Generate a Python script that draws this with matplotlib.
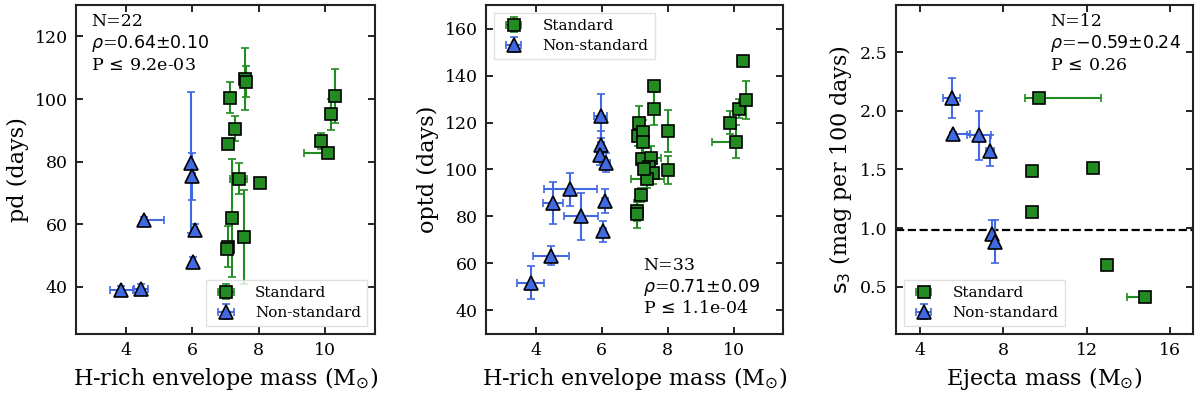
import numpy as np
import matplotlib
matplotlib.use('Agg')
import matplotlib.pyplot as plt

plt.rcParams['font.family'] = 'DejaVu Serif'
plt.rcParams['mathtext.fontset'] = 'dejavusans'

# colours
c_std = '#228B22'
c_ns = '#4169E1'

# ---- panel 1: pd vs H-rich envelope mass ----
x1_std = [7.15, 7.58, 7.62, 7.28, 7.09, 7.40, 8.03, 9.88, 10.08, 10.18, 10.30, 7.20, 7.08, 7.06, 7.55]
y1_std = [100.4, 106.4, 105.5, 90.5, 85.7, 74.6, 73.1, 86.5, 82.6, 95.1, 101.0, 62.0, 52.8, 52.1, 56.0]
y1_std_err = [5, 10, 5, 4, 1.5, 5, 0, 2.5, 0, 5, 8.7, 19, 6.5, 1, 15]
x1_std_lo = [0.1, 0.05, 0.05, 0.05, 0.1, 0.26, 0, 0.05, 0.7, 0.05, 0.05, 0.05, 0.05, 0.05, 0.05]
x1_std_hi = [0.1, 0.05, 0.05, 0.05, 0.1, 0.26, 0, 0.05, 0.05, 0.05, 0.05, 0.05, 0.05, 0.05, 0.05]

x1_ns = [3.87, 4.46, 4.54, 5.98, 6.00, 6.10, 6.03]
y1_ns = [38.9, 39.3, 61.2, 79.6, 75.3, 58.2, 48.0]
y1_ns_err = [1.5, 1.5, 1, 22.5, 7.5, 2, 1.5]
x1_ns_lo = [0.35, 0.2, 0.05, 0.05, 0.05, 0.05, 0.05]
x1_ns_hi = [0.35, 0.2, 0.6, 0.05, 0.1, 0.05, 0.05]

# ---- panel 2: optd vs H-rich envelope mass ----
x2_std = [7.58, 7.60, 7.15, 7.10, 7.25, 7.27, 8.01, 7.23, 7.50, 7.45, 7.55,
          8.03, 7.38, 7.20, 7.07, 7.08, 9.88, 10.07, 10.17, 10.38, 10.28, 7.30]
y2_std = [135.5, 125.9, 119.9, 114.2, 116.1, 111.8, 116.3, 104.3, 105.0, 101.0, 98.6,
          99.6, 96.0, 89.0, 82.2, 80.9, 119.9, 111.8, 125.9, 129.6, 146.3, 100.0]
y2_std_err = [0, 7, 7, 4, 5, 5, 9, 6, 5, 5, 5, 6, 4, 3, 4, 6, 5, 7, 4, 8, 0, 4]
x2_std_lo = [0.05, 0.05, 0.1, 0.1, 0.1, 0.1, 0.05, 0.1, 0.3, 0.1, 0.1,
             0.15, 0.5, 0.1, 0.1, 0.1, 0.1, 0.72, 0.1, 0.05, 0, 0.1]
x2_std_hi = [0.05, 0.05, 0.1, 0.1, 0.1, 0.1, 0.05, 0.1, 0.3, 0.1, 0.1,
             0.15, 0.5, 0.1, 0.1, 0.1, 0.1, 0.05, 0.1, 0.05, 0, 0.1]

x2_ns = [5.98, 5.98, 5.95, 6.15, 5.05, 4.53, 5.38, 6.10, 6.05, 4.46, 3.85]
y2_ns = [122.7, 110.4, 106.1, 102.9, 91.5, 85.8, 80.1, 86.5, 73.7, 63.3, 51.7]
y2_ns_err = [9.5, 6, 4, 4, 7, 9, 10, 5, 4.5, 4, 7]
x2_ns_err = [0.2, 0.1, 0.1, 0.1, 0.8, 0.3, 0.52, 0.1, 0.1, 0.55, 0.4]

# ---- panel 3: s3 vs ejecta mass ----
x3_std = [9.71, 9.39, 12.29, 9.39, 12.96, 14.80]
y3_std = [2.11, 1.486, 1.514, 1.136, 0.69, 0.417]
x3_std_lo = [0.67, 0, 0, 0, 0, 0.88]
x3_std_hi = [2.98, 0, 0, 0, 0, 0.05]

x3_ns = [5.52, 5.60, 6.83, 7.36, 7.47, 7.60]
y3_ns = [2.11, 1.80, 1.79, 1.66, 0.95, 0.886]
y3_ns_err = [0.17, 0.02, 0.21, 0.13, 0.12, 0.18]
x3_ns_lo = [0.4, 0.05, 0.58, 0.2, 0.05, 0.05]
x3_ns_hi = [0.4, 0.8, 0.58, 0.2, 0.05, 0.05]
s3_limit = 0.985

stats1 = ['N=22', r'$\rho$=$0.64{\pm}0.10$', r'P$\,\leq\,$9.2e-03']
stats2 = ['N=33', r'$\rho$=$0.71{\pm}0.09$', r'P$\,\leq\,$1.1e-04']
stats3 = ['N=12', r'$\rho$=${-}0.59{\pm}0.24$', r'P$\,\leq\,$0.26']

fig = plt.figure(figsize=(12, 3.95), dpi=100)
ax1 = fig.add_axes([0.0633, 0.155, 0.249, 0.832])
ax2 = fig.add_axes([0.405, 0.155, 0.2475, 0.832])
ax3 = fig.add_axes([0.7467, 0.155, 0.2475, 0.832])


def draw_std(ax, x, y, xerr, yerr):
    return ax.errorbar(x, y, xerr=xerr, yerr=yerr, fmt='s', color=c_std, ecolor=c_std,
                       mfc=c_std, mec='black', mew=1.2, ms=8, elinewidth=1.5,
                       capsize=3, capthick=1.2, label='Standard', zorder=3)


def draw_ns(ax, x, y, xerr, yerr):
    return ax.errorbar(x, y, xerr=xerr, yerr=yerr, fmt='^', color=c_ns, ecolor=c_ns,
                       mfc=c_ns, mec='black', mew=1.2, ms=10, elinewidth=1.5,
                       capsize=3, capthick=1.2, label='Non-standard', zorder=3)


leg_kw = dict(fontsize=11, fancybox=False, edgecolor='0.85', handletextpad=1.0,
              handlelength=1.8, labelspacing=0.4)

draw_std(ax1, x1_std, y1_std, [x1_std_lo, x1_std_hi], y1_std_err)
draw_ns(ax1, x1_ns, y1_ns, [x1_ns_lo, x1_ns_hi], y1_ns_err)
ax1.set_xlim(2.5, 11.5)
ax1.set_ylim(25, 130)
ax1.set_yticks([40, 60, 80, 100, 120])
ax1.set_xticks([4, 6, 8, 10])
ax1.set_ylabel('pd (days)', fontsize=16)
ax1.set_xlabel(r'H-rich envelope mass (M$_{\odot}$)', fontsize=16)
ax1.text(0.05, 0.975, '\n'.join(stats1), transform=ax1.transAxes, fontsize=12.5,
         va='top', ha='left', linespacing=1.2)
ax1.legend(loc='lower right', **leg_kw)

draw_std(ax2, x2_std, y2_std, [x2_std_lo, x2_std_hi], y2_std_err)
draw_ns(ax2, x2_ns, y2_ns, x2_ns_err, y2_ns_err)
ax2.set_xlim(2.5, 11.5)
ax2.set_ylim(30, 170)
ax2.set_yticks([40, 60, 80, 100, 120, 140, 160])
ax2.set_xticks([4, 6, 8, 10])
ax2.set_ylabel('optd (days)', fontsize=16)
ax2.set_xlabel(r'H-rich envelope mass (M$_{\odot}$)', fontsize=16)
ax2.text(0.53, 0.235, '\n'.join(stats2), transform=ax2.transAxes, fontsize=12.5,
         va='top', ha='left', linespacing=1.2)
ax2.legend(loc='upper left', **leg_kw)

ax3.axhline(s3_limit, color='black', ls='--', lw=1.6, zorder=1)
draw_std(ax3, x3_std, y3_std, [x3_std_lo, x3_std_hi], None)
draw_ns(ax3, x3_ns, y3_ns, [x3_ns_lo, x3_ns_hi], y3_ns_err)
ax3.set_xlim(2.85, 17.1)
ax3.set_ylim(0.1, 2.9)
ax3.set_xticks([4, 8, 12, 16])
ax3.set_yticks([0.5, 1.0, 1.5, 2.0, 2.5])
ax3.set_ylabel(r'$\mathrm{s_3}$ (mag per 100 days)', fontsize=16)
ax3.set_xlabel(r'Ejecta mass (M$_{\odot}$)', fontsize=16)
ax3.text(0.52, 0.975, '\n'.join(stats3), transform=ax3.transAxes, fontsize=12.5,
         va='top', ha='left', linespacing=1.2)
ax3.legend(loc='lower left', **leg_kw)

for ax in (ax1, ax2, ax3):
    ax.tick_params(direction='in', top=True, right=True, length=5, width=1.2,
                   labelsize=12.5, pad=6)
    for sp in ax.spines.values():
        sp.set_linewidth(1.5)
        sp.set_color('#222222')

fig.savefig('out.png', dpi=100)
